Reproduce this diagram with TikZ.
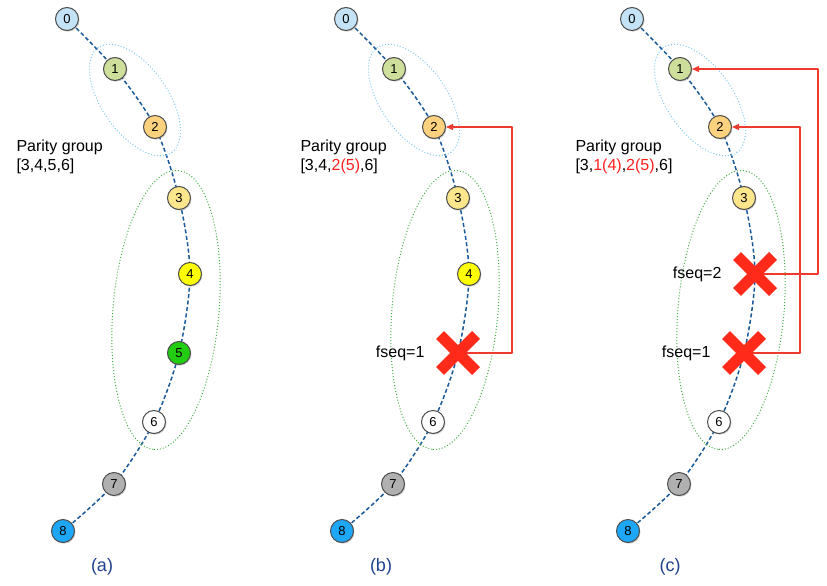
\documentclass[tikz,border=0pt]{standalone}
\usepackage{fontspec}
\setmainfont{Liberation Sans}
\usetikzlibrary{positioning,shapes.misc,shadows,arrows.meta}

\definecolor{seqc0}{HTML}{C5E3F6}
\definecolor{seqc1}{HTML}{CDDF9A}
\definecolor{seqc2}{HTML}{FDD27E}
\definecolor{seqc3}{HTML}{FDE68B}
\definecolor{seqc4}{HTML}{FFFF00}
\definecolor{seqc5}{HTML}{22CC11}
\definecolor{seqc6}{HTML}{FFFFFF}
\definecolor{seqc7}{HTML}{B0B0B0}
\definecolor{seqc8}{HTML}{1EA6F7}
\definecolor{chainblue}{HTML}{1A5A9A}
\definecolor{lossred}{HTML}{FF2A1A}
\definecolor{linkred}{HTML}{F03A2E}
\definecolor{textred}{HTML}{FF2020}
\definecolor{grpblue}{HTML}{80CCF0}
\definecolor{grpgreen}{HTML}{44B044}
\definecolor{panelblue}{HTML}{1F3F8F}

\begin{document}
\begin{tikzpicture}[
    x=1pt,
    y=-1pt,
    line join=round,
    seqnode/.style={circle, draw=black!70, line width=1pt, minimum size=23pt,
      inner sep=0pt, font=\fontsize{13}{13}\selectfont,
      drop shadow={shadow xshift=1pt, shadow yshift=-1.2pt, opacity=0.35}},
    seqchain/.style={draw=chainblue, line width=1.5pt, dash pattern=on 4pt off 2.5pt},
    grpold/.style={draw=grpblue, line width=1pt, dotted},
    grpnew/.style={draw=grpgreen, line width=1pt, dotted},
    lostpkt/.style={cross out, draw=lossred, line width=11pt, minimum size=25pt, inner sep=0pt},
    recover/.style={draw=linkred, line width=1.3pt, -{Triangle[length=7pt,width=6pt]}},
    grptext/.style={align=left, anchor=west, font=\fontsize{16}{19}\selectfont},
    fseqtext/.style={font=\fontsize{16}{19}\selectfont},
    panel/.style={text=panelblue, font=\fontsize{18}{20}\selectfont}
  ]
  \useasboundingbox (0,0) rectangle (827,586);

  % chain and groups, one panel per offset
  \foreach \p/\dx in {a/0, b/279, c/565} {
    \foreach \n/\x/\y in {0/67/19, 1/115/69, 2/155/127, 3/179/198, 4/190/274,
        5/179/353, 6/154/422, 7/114/484, 8/63/531}
      \coordinate (\p p\n) at (\x+\dx,\y);
    \draw[seqchain] plot[smooth] coordinates
      {(\p p0) (\p p1) (\p p2) (\p p3) (\p p4) (\p p5) (\p p6) (\p p7) (\p p8)};
    \draw[grpold, rotate around={-55:(135+\dx,100)}]
      (135+\dx,100) ellipse [x radius=64pt, y radius=33pt];
    \draw[grpnew, rotate around={-95:(166+\dx,310)}]
      (166+\dx,310) ellipse [x radius=140pt, y radius=53pt];
  }

  % recovery links
  \coordinate (brail) at (512,0);
  \coordinate (crail1) at (818,0);
  \coordinate (crail2) at (800,0);

  % packets
  \foreach \p/\list in {a/{0,1,2,3,4,5,6,7,8}, b/{0,1,2,3,4,6,7,8}, c/{0,1,2,3,6,7,8}}
    \foreach \n in \list
      \node[seqnode, fill=seqc\n] (\p\n) at (\p p\n) {\n};

  \draw[recover] (bp5) -| (brail |- b2) -- (b2);
  \draw[recover] (cp4) -| (crail1 |- c1) -- (c1);
  \draw[recover] (cp5) -| (crail2 |- c2) -- (c2);

  % lost packets
  \node[lostpkt] (bx5) at (bp5) {};
  \node[lostpkt] (cx4) at (cp4) {};
  \node[lostpkt] (cx5) at (cp5) {};
  \node[fseqtext, left=12pt of bx5] (bfseq1) {fseq=1};
  \node[fseqtext, left=12pt of cx4] (cfseq2) {fseq=2};
  \node[fseqtext, left=12pt of cx5] (cfseq1) {fseq=1};

  % parity group text
  \node[grptext] (agrp) at (13,157) {Parity group\\{}[3,4,5,6]};
  \node[grptext] (bgrp) at (297,157)
    {Parity group\\{}[3,4,\textcolor{textred}{2(5)},6]};
  \node[grptext] (cgrp) at (572,157)
    {Parity group\\{}[3,\textcolor{textred}{1(4)},\textcolor{textred}{2(5)},6]};

  \node[panel] (alabel) at (102,567) {(a)};
  \node[panel] (blabel) at (381,567) {(b)};
  \node[panel] (clabel) at (670,567) {(c)};
\end{tikzpicture}
\end{document}
